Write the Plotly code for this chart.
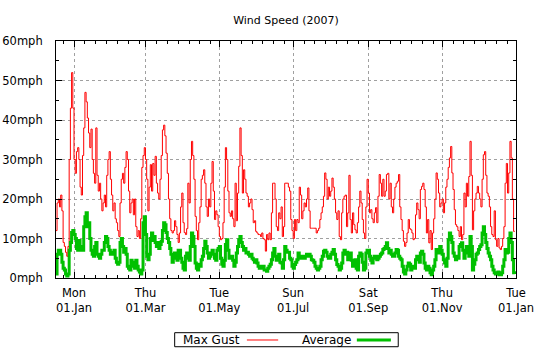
import pandas as pd
import plotly.graph_objects as go

# ---------------- data (daily values, starting 2006-12-17) ----------------
start_date = "2006-12-17"

gust_p1 = [12,19,20,18,21,17,9,8,6.5,5.5,8,30,43,52,43,30,26.5,32,33,30,23,21,31,38,47,44.6,40.5,36.7,33,37.7,30,26.5,24,38,26,22,24,20,17,19,21,18,26,30,32,25,21,17]
gust_p2 = [19,15,14,12,10.5,19,25,26.5,24,28,32,30,22,16.5,19,20,16,20,13,10.5,12,10,15,28,31,33,30,25,17,23,28.7,22,29,26,30.8,24,21.5,20,25,31,37.5,38.7,36,31.6,26.5,20,15,12]
gust_p3 = [11.4,12,14.5,13,11,9,11.4,18,21.5,14,11.5,11,12.5,24,19,30,34.6,31,25,15.6,12,9.7,14,18,25,26,27.4,24,18,15.6,20,18,24,29.5,22,14.8,17,16,13,10.5,9.7,10,14,23,33,30,22,16.5]
gust_p4 = [15.6,17,15,13,24,14.5,21.5,28.3,38,31,21.5,27.4,25,21.5,20.7,18,19,20,17.3,14,14.5,11.8,11.4,11,11,10.5,11.4,10,9.7,6.8,11,9.7,11.4,9.7,16.5,24,24,20,13,12,16.5,15,18,10.5,13,24,24,24]
gust_p5 = [23,22,14.8,12,10,14.8,12,14.8,14,23,21,15,17,19,18,20,22.8,17,12.6,12.6,12.6,12.6,12.6,11.4,12,12.6,14.8,16.5,18,20.7,26.6,25,20,23,20.7,22,25.3,23,20,16.5,14.8,17,10.5,9.7,16.5,20,20.7,21,13]
gust_p6 = [16.5,26,14.8,11.4,16.5,13.5,12.2,11.4,14,18,22,19,14.8,11.4,10,18,25,21.5,16.5,17.3,15,14,16.5,17.8,14,20.7,26.2,24,20.7,25,20.7,22,26.2,26.5,20,24,18,16.5,20,23,24,24.5,26.2,18,14.8,12,9.3,8]
gust_p7 = [9,11.4,14.8,12.5,12.2,11.4,9.7,10,16,19,17.3,15,22.4,23.2,24,22.4,18,11.4,14.8,8.9,12,7.2,11.4,15,20,26.6,25,21.5,18,19,20,16.5,19,23,25,28,30.4,33.3,26.6,22.4,17.3,13.5,13,12,10.5,13,9.7,11]
gust_p8 = [21.5,18,24,20.7,25.7,34.6,26,12.2,17,20,21.5,23.2,21.5,20,18,25,31.2,32,26,21.5,20.7,18,13,11,10.5,17,9.7,8,10,7.6,7.2,8,10,13,24,29,21.5,26.6,34.6,30.4,20,11.8,11.8]

avg_p1 = [1,6,7,7,6,4,2.5,2,1,0.5,1,7,9,11.5,12,11,10,7.5,7,9.5,8,7,7,13,15.5,16.5,13,14,10,7,6,5.5,8,9,6,5.5,5,6,7,7,9,10.5,10,8,7,6,6.5,6]
avg_p2 = [7,5,4,3.5,4,9,10,8,6.5,7.5,6,3,2.5,2,4.5,3,4,2.5,4.5,3,2,1.5,1,2,14,15.5,11,5.5,4.6,6,10,11.4,9.5,10.5,9,8,9,7.5,8.5,9.3,12,14,13.5,11.5,10,9,7.5,6]
avg_p3 = [4,5,6.3,5,4.5,7,7,5,4,2.5,2,5.5,6.3,5,4.5,8,11.4,10.5,8,3.8,2.5,2,3.5,3,4.6,5.5,7.5,9.3,8,6.3,5,5.5,6.3,7,6,5,4.5,7,7.5,8,5,3.5,3,4.5,8.5,9.7,7,5]
avg_p4 = [5,5.5,4.5,3,4,6.3,8,9.7,10.5,9,8,7,7.5,6.3,6.5,6,5.5,6,5,4.6,4,4.6,3.8,3,2.5,3,2.5,3,2,2,1.7,2.5,3,3.5,4.6,6.3,7.5,5.5,4.5,5,6,4,3.8,2.5,4.6,8,7,6.5]
avg_p5 = [6.5,5,4.6,3,2.5,3.4,4,4.6,6.3,5.5,5,5.5,5.5,5,5.5,6,5.5,6,5.5,4.6,4.5,4,3,2.5,2,2.5,3,4.6,5.5,6.8,7,6.5,5.5,5,5,6,6.5,7.2,6,4.6,3.4,3,2,2.5,3.8,6.3,7,6,6.5]
avg_p6 = [4.6,6,6.3,4.5,3,3.5,4.6,2.5,2,5.5,6.3,6,4,2,2.5,6.3,7,7,5.5,4.5,3.8,5,5.5,5.5,4.6,5,5.5,6,6.3,7.2,7.5,8,8.9,7.5,6.3,7,6,5.5,5.5,6.3,7.2,7,5.5,5,4.6,3,1.5,1]
avg_p7 = [2,3,3.8,3.5,2,2.5,3,2.5,4.6,5.5,5,4,6.3,6.8,6,3.8,2.5,2,3,2.5,1.3,0.8,2,3,4.6,7.2,6.5,6.3,8,7,6,4.6,3.8,3,5,9.7,11.4,10.5,9,6.3,5.5,4.6,5.5,5,8,8.5,8.9,7]
avg_p8 = [5,6.3,8,7,5.5,10.5,8,2,3.5,4.6,6,6.3,7.2,8,8.4,11.4,13,11,9,7.5,6.3,5.5,4.6,3,2,1.3,1,1.3,1.5,0.8,0.8,1.3,3,4.6,7.2,6.3,6.5,10,11.4,9,4.6,1.3,1]

tick_dates = ["2007-01-01", "2007-03-01", "2007-05-01", "2007-07-01",
              "2007-09-01", "2007-11-01", "2008-01-01"]
tick_labels = ["Mon<br>01.Jan", "Thu<br>01.Mar", "Tue<br>01.May", "Sun<br>01.Jul",
               "Sat<br>01.Sep", "Thu<br>01.Nov", "Tue<br>01.Jan"]
y_ticks = [0, 10, 20, 30, 40, 50, 60]
y_labels = ["0mph", "10mph", "20mph", "30mph", "40mph", "50mph", "60mph"]

series_names = ["Max Gust", "Average"]
title_text = "Wind Speed (2007)"

# ---------------- build ----------------
gust = gust_p1 + gust_p2 + gust_p3 + gust_p4 + gust_p5 + gust_p6 + gust_p7 + gust_p8
avg = avg_p1 + avg_p2 + avg_p3 + avg_p4 + avg_p5 + avg_p6 + avg_p7 + avg_p8
dates_g = pd.date_range(start_date, periods=len(gust), freq="D")
dates_a = pd.date_range(start_date, periods=len(avg), freq="D")

# minor ticks every 9 days from each major tick (gnuplot-like)
majors = pd.to_datetime(tick_dates)
minor_vals = []
d = majors[0] - pd.Timedelta(days=9)
while d > pd.Timestamp("2006-12-17"):
    minor_vals.append(d)
    d -= pd.Timedelta(days=9)
for a, b in zip(majors[:-1], majors[1:]):
    d = a + pd.Timedelta(days=9)
    while d < b - pd.Timedelta(days=2):
        minor_vals.append(d)
        d += pd.Timedelta(days=9)

RED = "#ff0000"
GREEN = "#00c000"
FONT = "DejaVu Sans"

fig = go.Figure()
fig.add_trace(go.Scatter(x=dates_g, y=gust, mode="lines", line=dict(color=RED, width=1, shape="hv"),
                         name=series_names[0], showlegend=False))
fig.add_trace(go.Scatter(x=dates_a, y=avg, mode="lines", line=dict(color=GREEN, width=3, shape="hv"),
                         name=series_names[1], showlegend=False))

axis_common = dict(showline=True, linecolor="black", linewidth=1, mirror="ticks",
                   ticks="inside", ticklen=6, tickcolor="black", tickwidth=1,
                   showgrid=True, gridcolor="#a0a0a0", gridwidth=1, griddash="3px,3px",
                   zeroline=False, automargin=False,
                   tickfont=dict(family=FONT, size=11.5, color="black"))

fig.update_xaxes(type="date", range=[pd.Timestamp("2006-12-17 03:00"), pd.Timestamp("2008-01-01")],
                 tickmode="array", tickvals=majors, ticktext=tick_labels,
                 minor=dict(tickmode="array", tickvals=minor_vals, ticks="inside", ticklen=3,
                            tickcolor="black", showgrid=False),
                 ticklabelstandoff=4, **axis_common)
fig.update_yaxes(range=[0, 60], tickmode="array", tickvals=y_ticks, ticktext=y_labels,
                 minor=dict(dtick=5, ticks="inside", ticklen=3, tickcolor="black", showgrid=False),
                 ticklabelstandoff=10, **axis_common)

# gnuplot-style key: text first, then sample line, framed
key_font = dict(family=FONT, size=12, color="black")
shapes = [
    dict(type="rect", xref="paper", yref="paper", x0=0.258, x1=0.744, y0=-0.290, y1=-0.2308,
         line=dict(color="black", width=1), fillcolor="white"),
    dict(type="line", xref="paper", yref="paper", x0=0.415, x1=0.483, y0=-0.2616, y1=-0.2616,
         line=dict(color=RED, width=1)),
    dict(type="line", xref="paper", yref="paper", x0=0.654, x1=0.728, y0=-0.2616, y1=-0.2616,
         line=dict(color=GREEN, width=3)),
]
annotations = [
    dict(text=series_names[0], xref="paper", yref="paper", x=0.272, y=-0.2616,
         xanchor="left", yanchor="middle", showarrow=False, font=key_font),
    dict(text=series_names[1], xref="paper", yref="paper", x=0.530, y=-0.2616,
         xanchor="left", yanchor="middle", showarrow=False, font=key_font),
]

fig.update_layout(
    width=540, height=350,
    margin=dict(l=56, r=24, t=41, b=72, pad=0),
    paper_bgcolor="white", plot_bgcolor="white",
    title=dict(text=title_text, x=0.5, xref="paper", y=1 - 20 / 350, yref="container",
               xanchor="center", yanchor="middle", font=dict(family=FONT, size=11, color="black")),
    shapes=shapes, annotations=annotations, showlegend=False,
)

fig.write_html("out.html")
